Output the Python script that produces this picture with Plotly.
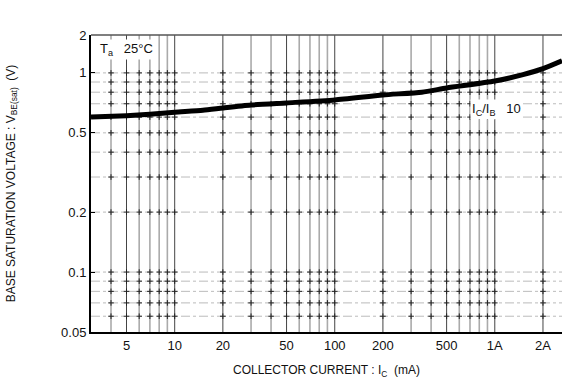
import plotly.graph_objects as go
import math

# Base saturation voltage vs. collector current (Ta = 25 C, Ic/Ib = 10)
collector_current_ma = [3, 5, 7, 10, 15, 20, 30, 50, 100, 200, 350, 500, 1000, 1500, 2000, 2630]
vbe_sat_v = [0.60, 0.61, 0.62, 0.635, 0.65, 0.667, 0.69, 0.707, 0.732, 0.775, 0.80, 0.84, 0.91, 0.98, 1.05, 1.15]

x_tick_vals = [5, 10, 20, 50, 100, 200, 500, 1000, 2000]
x_tick_text = ["5", "10", "20", "50", "100", "200", "500", "1A", "2A"]
y_tick_vals = [0.05, 0.1, 0.2, 0.5, 1, 1.55]
y_tick_text = ["0.05", "0.1", "0.2", "0.5", "1", "2"]

# grid positions (log-cycle subdivisions)
x_grid = [m * d for d in (1, 10, 100, 1000) for m in range(1, 10) if 3 < m * d < 2600]
y_grid = [0.06, 0.07, 0.08, 0.09, 0.1, 0.2, 0.3, 0.4, 0.5, 0.6, 0.7, 0.8, 0.9, 1.0]

X_RANGE = (3.0, 2630.0)
Y_RANGE = (0.05, 1.55)

fig = go.Figure()

shapes = []
for xv in x_grid:
    lead = int(str(xv)[0])
    dark = lead in (1, 2, 5)
    shapes.append(dict(type="line", xref="x", yref="paper", x0=xv, x1=xv, y0=0, y1=1,
                       line=dict(color="#444" if dark else "#aaa", width=1 if dark else 1.6),
                       layer="below"))
for yv in y_grid:
    shapes.append(dict(type="line", xref="paper", yref="y", x0=0, x1=1, y0=yv, y1=yv,
                       line=dict(color="#bbb", width=1, dash="dashdot"), layer="below"))
# top frame line
shapes.append(dict(type="line", xref="paper", yref="paper", x0=0, x1=1, y0=1, y1=1,
                   line=dict(color="#555", width=1.5)))

# small crosses where grid lines meet
cx, cy = [], []
for xv in x_grid:
    for yv in y_grid:
        cx.append(xv)
        cy.append(yv)
fig.add_trace(go.Scatter(x=cx, y=cy, mode="markers", hoverinfo="skip",
                         marker=dict(symbol="cross-thin", size=4,
                                     line=dict(color="#222", width=1)),
                         showlegend=False))

fig.add_trace(go.Scatter(x=collector_current_ma, y=vbe_sat_v, mode="lines",
                         line=dict(color="black", width=5, shape="spline", smoothing=0.6),
                         showlegend=False))

fig.update_layout(
    width=562, height=390,
    margin=dict(l=91, r=0, t=35, b=58),
    paper_bgcolor="white", plot_bgcolor="white",
    font=dict(family="Liberation Sans, Arial, sans-serif", color="#111", size=13),
    shapes=shapes,
    xaxis=dict(type="log", range=[math.log10(X_RANGE[0]), math.log10(X_RANGE[1])],
               tickvals=x_tick_vals, ticktext=x_tick_text, showgrid=False, zeroline=False,
               showline=True, linecolor="black", linewidth=2, ticks="", ticklen=0,
               tickfont=dict(size=13),
               title=dict(text="COLLECTOR CURRENT : I<sub>C</sub>  (mA)",
                          font=dict(size=12), standoff=14)),
    yaxis=dict(type="log", range=[math.log10(Y_RANGE[0]), math.log10(Y_RANGE[1])],
               tickvals=y_tick_vals, ticktext=y_tick_text, showgrid=False, zeroline=False,
               showline=True, linecolor="black", linewidth=2, ticks="inside", ticklen=4,
               tickcolor="black", tickfont=dict(size=13),
               title=dict(text="BASE SATURATION VOLTAGE : V<sub>BE(sat)</sub>  (V)",
                          font=dict(size=12), standoff=43)),
    annotations=[
        dict(x=0.015, y=0.985, xref="paper", yref="paper", xanchor="left", yanchor="top",
             text="T<sub>a</sub>   25°C", showarrow=False, font=dict(size=13),
             bgcolor="white"),
        dict(x=math.log10(700), y=math.log10(0.655), xref="x", yref="y", xanchor="left",
             yanchor="middle", text="I<sub>C</sub>/I<sub>B</sub>   10", showarrow=False,
             font=dict(size=13), bgcolor="white"),
    ],
)

fig.write_html("out.html")
